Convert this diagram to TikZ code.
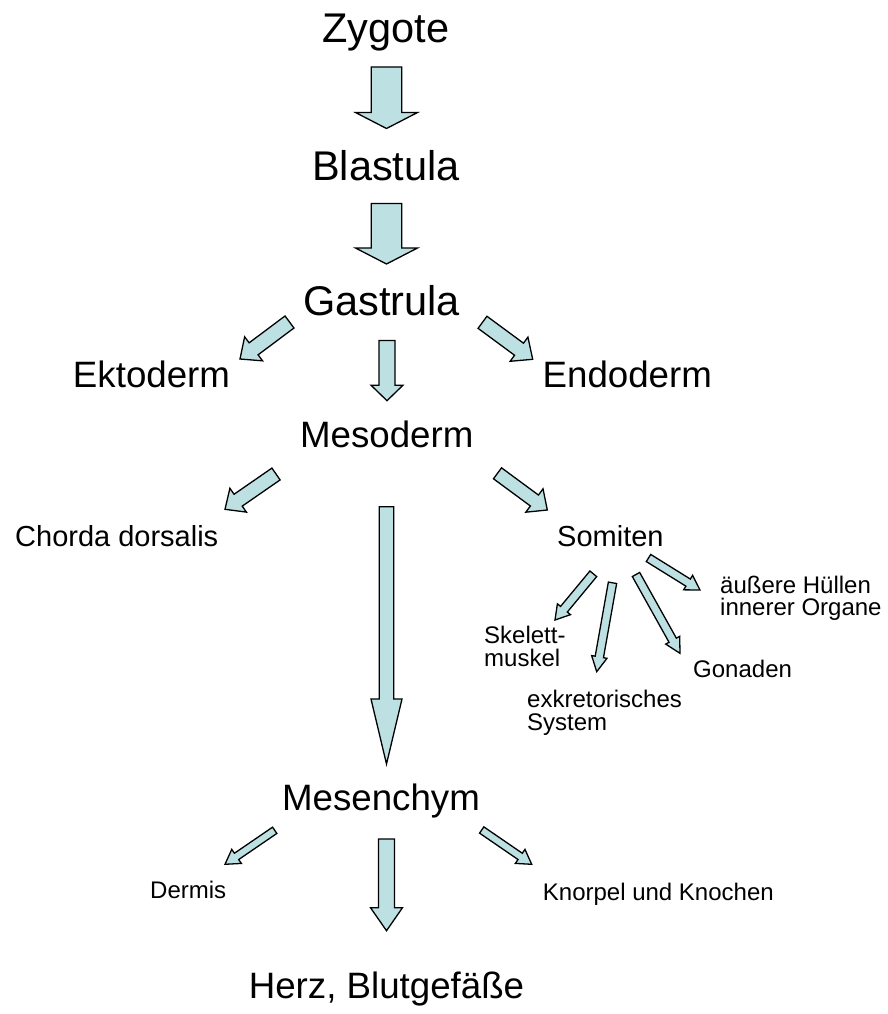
\documentclass[tikz,border=0pt]{standalone}
\usepackage{fontspec}
\setmainfont{Liberation Sans}
\usetikzlibrary{calc}
\definecolor{arrowfill}{RGB}{189,224,227}
\tikzset{
  blockarr/.style={draw=black, fill=arrowfill, line width=1.3pt, line join=miter},
  big/.style={inner sep=0pt, anchor=base, font=\fontsize{41.5}{48}\selectfont},
  mid/.style={inner sep=0pt, anchor=base, font=\fontsize{36.7}{42}\selectfont},
  lab/.style={inner sep=0pt, anchor=base west, font=\fontsize{29}{33}\selectfont},
  small/.style={inner sep=0pt, anchor=base west, font=\fontsize{24}{27}\selectfont}
}
% start, end, half shaft width, half head width, head length
\newcommand\blockarrow[5]{%
  \coordinate (hb-#1-#2) at ($(#2)!#5pt!(#1)$);
  \draw[blockarr] ($(#1)!#3pt!90:(#2)$) -- ($(hb-#1-#2)!#3pt!90:(#2)$)
    -- ($(hb-#1-#2)!#4pt!90:(#2)$) -- (#2)
    -- ($(hb-#1-#2)!#4pt!-90:(#2)$) -- ($(hb-#1-#2)!#3pt!-90:(#2)$)
    -- ($(#1)!#3pt!-90:(#2)$) -- cycle;}
\begin{document}
\begin{tikzpicture}[x=1pt,y=-1pt]
\useasboundingbox[fill=white] (0,0) rectangle (887,1014);
% texts
\node[big] (zyg) at (386,43) {Zygote};
\node[big] (bla) at (386,180) {Blastula};
\node[big] (gas) at (381.5,315) {Gastrula};
\node[mid] (ekt) at (151.5,387) {Ektoderm};
\node[mid] (endo) at (627.3,387) {Endoderm};
\node[mid] (meso) at (386.7,447) {Mesoderm};
\node[lab] (chor) at (15,546) {Chorda dorsalis};
\node[lab] (somi) at (557,546) {Somiten};
\node[small] (aus1) at (720,593) {äußere Hüllen};
\node[small] (aus2) at (720,615) {innerer Organe};
\node[small] (ske1) at (484,643) {Skelett-};
\node[small] (ske2) at (484,666) {muskel};
\node[small] (gon) at (693,677) {Gonaden};
\node[small] (exk1) at (527,707) {exkretorisches};
\node[small] (exk2) at (527,730) {System};
\node[mid] (mesen) at (381,810) {Mesenchym};
\node[small] (derm) at (150,898) {Dermis};
\node[small] (knor) at (542.7,900) {Knorpel und Knochen};
\node[mid] (herz) at (386.5,998) {Herz, Blutgefäße};
% arrow end points
\coordinate (a1s) at (386.5,67);    \coordinate (a1e) at (386.5,128.5);
\coordinate (a2s) at (386.5,203.5); \coordinate (a2e) at (386.5,264);
\coordinate (a3s) at (289.5,322);   \coordinate (a3e) at (240,359);
\coordinate (a4s) at (387,340.5);   \coordinate (a4e) at (387,400.7);
\coordinate (a5s) at (482.5,322.3); \coordinate (a5e) at (532.7,359.3);
\coordinate (a6s) at (276,474);     \coordinate (a6e) at (225,509.3);
\coordinate (a7s) at (497.5,473.3); \coordinate (a7e) at (547.3,510);
\coordinate (a8s) at (386.5,506.7); \coordinate (a8e) at (386.5,764);
\coordinate (a9s) at (593.3,573.8); \coordinate (a9e) at (555,620);
\coordinate (a10s) at (612.5,582.8); \coordinate (a10e) at (596.7,671.7);
\coordinate (a11s) at (636,574.5);  \coordinate (a11e) at (680,653.3);
\coordinate (a12s) at (648.5,558);  \coordinate (a12e) at (700,590);
\coordinate (a13s) at (274.7,830.3); \coordinate (a13e) at (225,864.3);
\coordinate (a14s) at (386.5,839);  \coordinate (a14e) at (386.5,930.7);
\coordinate (a15s) at (481.7,830);  \coordinate (a15e) at (531.7,864.3);
% arrows
\blockarrow{a1s}{a1e}{15.3}{31}{16}
\blockarrow{a2s}{a2e}{15.3}{31}{16}
\blockarrow{a3s}{a3e}{7.5}{15}{17}
\blockarrow{a4s}{a4e}{8}{16}{15.5}
\blockarrow{a5s}{a5e}{7.5}{15}{17}
\blockarrow{a6s}{a6e}{7.2}{14.5}{16}
\blockarrow{a7s}{a7e}{6.8}{14.5}{16}
\blockarrow{a8s}{a8e}{7.2}{15.5}{65}
\blockarrow{a9s}{a9e}{4.4}{8.5}{14}
\blockarrow{a10s}{a10e}{4.2}{7.8}{15}
\blockarrow{a11s}{a11e}{4.2}{8}{15}
\blockarrow{a12s}{a12e}{4.2}{8.5}{14}
\blockarrow{a13s}{a13e}{3.8}{8.5}{14}
\blockarrow{a14s}{a14e}{8}{16}{23}
\blockarrow{a15s}{a15e}{3.8}{8.5}{14}
\end{tikzpicture}
\end{document}
